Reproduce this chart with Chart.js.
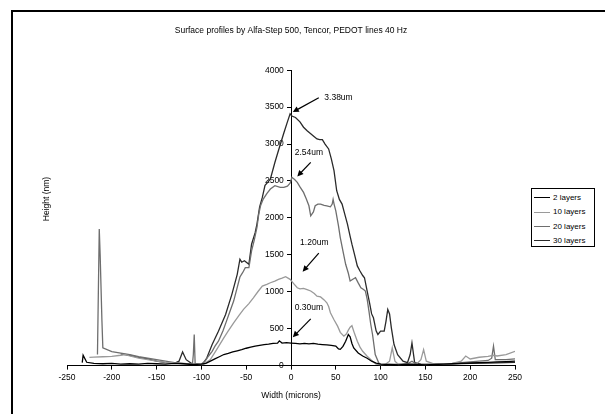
<!DOCTYPE html>
<html>
<head>
<meta charset="utf-8">
<script src="https://cdn.jsdelivr.net/npm/chart.js@4.4.1/dist/chart.umd.min.js"></script>
<style>
  html, body { margin: 0; padding: 0; background: #fff; overflow: hidden; }
  #wrap { position: relative; width: 605px; height: 414px; }
  #frame { position: absolute; left: 11px; top: 10px; width: 700px; height: 500px; border: 2px solid #000; box-sizing: border-box; }
  canvas { position: absolute; left: 0; top: 0; }
  #legend { position: absolute; left: 531px; top: 188px; width: 64px; height: 59px; border: 1px solid #000; box-sizing: border-box; background: #fff;
            font-family: "Liberation Sans", Arial, sans-serif; font-size: 8px; color: #000; padding-top: 2px; }
  #legend div { height: 14.3px; line-height: 14.3px; white-space: nowrap; }
  #legend span.ln { display: inline-block; width: 16px; height: 0; border-top: 1.5px solid #000; vertical-align: middle; margin: 0 3px 0 2px; }
</style>
</head>
<body>
<div id="wrap">
  <div id="frame"></div>
  <canvas id="profileChart" width="605" height="414"></canvas>
  <div id="legend"></div>
</div>
<script>
// series labels
const seriesNames = ['2 layers', '10 layers', '20 layers', '30 layers'];

// 2 layers
const x2 = [-233, -232, -228, -220, -210, -200, -190, -180, -170, -160, -150, -140, -130, -120, -110, -100, -95, -90, -85, -80, -75, -70, -65, -60, -55, -50, -45, -40, -35, -30, -25, -20, -15, -13, -10, -5, 0, 5, 10, 15, 20, 25, 30, 35, 40, 45, 50, 53, 55, 58, 61, 64, 66, 68, 70, 75, 80, 85, 90, 95, 100, 110, 120, 130, 140, 150, 160, 170, 180, 190, 200, 210, 220, 230, 240, 250];
const y2 = [40, 140, 45, 30, 25, 30, 20, 25, 20, 30, 25, 20, 30, 25, 15, 20, 30, 60, 90, 120, 150, 165, 185, 200, 215, 235, 250, 265, 275, 285, 290, 300, 305, 335, 305, 310, 305, 300, 295, 300, 295, 300, 290, 285, 280, 275, 265, 225, 220, 260, 330, 420, 390, 300, 240, 170, 130, 100, 60, 35, 20, 15, 10, 20, 15, 10, 15, 20, 25, 30, 35, 40, 45, 50, 55, 60];

// 10 layers
const x10 = [-225, -220, -210, -200, -190, -185, -180, -170, -160, -150, -140, -130, -120, -110, -100, -98, -90, -83, -75, -70, -64, -58, -53, -47, -42, -37, -32, -27, -23, -18, -14, -10, -6, -1, 3, 7, 10, 14, 18, 22, 26, 29, 33, 37, 40, 42, 44, 48, 52, 55, 59, 62, 64, 66, 68, 71, 74, 77, 80, 85, 91, 95, 100, 105, 110, 113, 116, 120, 130, 140, 145, 148, 151, 160, 170, 180, 190, 195, 200, 210, 220, 226, 230, 240, 250];
const y10 = [110, 115, 120, 125, 140, 150, 130, 100, 80, 60, 45, 35, 25, 20, 15, 14, 82, 217, 375, 470, 579, 680, 761, 840, 918, 1000, 1077, 1100, 1122, 1145, 1168, 1185, 1204, 1168, 1110, 1054, 1040, 1046, 1030, 1010, 975, 941, 930, 890, 851, 800, 715, 620, 534, 450, 398, 430, 480, 520, 540, 430, 330, 250, 194, 126, 58, 20, 10, 15, 60, 240, 60, 15, 20, 20, 80, 217, 60, 20, 25, 30, 60, 130, 90, 113, 125, 140, 130, 150, 194];

// 20 layers
const x20 = [-216, -214, -213, -211, -210, -200, -190, -180, -170, -160, -150, -140, -130, -120, -110, -109, -108, -107, -100, -96, -92, -88, -85, -81, -76, -72, -68, -64, -60, -57, -54, -51, -47, -44, -41, -38, -36, -34, -31, -27, -23, -18, -12, -8, -4, -1, 1, 4, 7, 10, 14, 17, 20, 22, 25, 27, 30, 33, 37, 40, 44, 46, 47, 48, 50, 53, 55, 58, 61, 64, 66, 69, 72, 75, 78, 81, 83, 85, 87, 89, 91, 94, 98, 100, 110, 120, 130, 135, 140, 150, 160, 170, 180, 190, 200, 210, 220, 224, 226, 228, 240, 250];
const y20 = [150, 1850, 1500, 600, 240, 190, 170, 150, 120, 100, 80, 60, 40, 30, 20, 150, 420, 30, 20, 58, 130, 194, 260, 330, 470, 602, 740, 874, 1060, 1200, 1258, 1326, 1326, 1553, 1700, 1870, 2050, 2164, 2255, 2330, 2391, 2436, 2413, 2413, 2430, 2470, 2549, 2520, 2481, 2420, 2345, 2260, 2164, 2028, 2080, 2164, 2187, 2187, 2170, 2164, 2150, 2187, 2250, 2190, 2096, 1893, 1734, 1550, 1372, 1250, 1145, 1170, 1190, 1120, 1054, 1030, 1010, 900, 738, 560, 421, 149, 35, 20, 15, 20, 25, 60, 20, 15, 20, 25, 30, 40, 50, 60, 70, 100, 262, 80, 80, 90];

// 30 layers
const x30 = [-190, -180, -170, -160, -150, -140, -130, -125, -121, -117, -110, -100, -99, -94, -88, -81, -73, -66, -60, -57, -55, -52, -47, -44, -40, -38, -35, -32, -29, -26, -23, -18, -14, -8, -4, -1, 1, 5, 10, 14, 18, 22, 26, 29, 32, 35, 38, 42, 45, 48, 51, 54, 57, 60, 63, 66, 68, 71, 74, 77, 80, 82, 85, 88, 90, 92, 95, 97, 100, 104, 106, 108, 110, 112, 115, 119, 125, 130, 133, 135, 138, 145, 160, 180, 200, 220, 240, 250];
const y30 = [160, 140, 110, 90, 60, 40, 30, 60, 185, 80, 20, 15, 14, 103, 285, 466, 693, 965, 1236, 1440, 1400, 1420, 1372, 1644, 1800, 1916, 2150, 2277, 2440, 2480, 2527, 2750, 2912, 3150, 3300, 3410, 3380, 3360, 3300, 3228, 3180, 3140, 3100, 3070, 3060, 3061, 3000, 2934, 2800, 2640, 2368, 2250, 2187, 2050, 1916, 1750, 1644, 1500, 1350, 1281, 1220, 1190, 1010, 829, 700, 647, 470, 421, 466, 466, 600, 761, 700, 511, 285, 149, 60, 40, 150, 307, 40, 20, 15, 25, 30, 35, 40, 45];

// axis ticks
const xTicks = [-250, -200, -150, -100, -50, 0, 50, 100, 150, 200, 250];
const yTicks = [0, 500, 1000, 1500, 2000, 2500, 3000, 3500, 4000];

// peak labels with arrows (data coordinates)
const peakLabels = ['3.38um', '2.54um', '1.20um', '0.30um'];
const labelAt = [[53, 3628], [20, 2880], [26, 1666], [20, 783]];
const arrowFrom = [[31, 3628], [22, 2753], [31, 1522], [22, 633]];
const arrowTo = [[2, 3433], [7, 2562], [13, 1272], [2, 385]];

const colors = ['#000000', '#9a9a9a', '#6e6e6e', '#2a2a2a'];
const FONT = '"Liberation Sans", Arial, sans-serif';

function toPoints(xs, ys) {
    return xs.map((x, i) => ({ x: x, y: ys[i] }));
}

const seriesX = [x2, x10, x20, x30];
const seriesY = [y2, y10, y20, y30];

const peakPlugin = {
    id: 'peaks',
    afterDatasetsDraw(chart) {
        const ctx = chart.ctx;
        const sx = chart.scales.x, sy = chart.scales.y;
        ctx.save();
        ctx.font = '8.5px ' + FONT;
        ctx.fillStyle = '#000';
        ctx.strokeStyle = '#000';
        ctx.textAlign = 'center';
        ctx.textBaseline = 'middle';
        peakLabels.forEach((txt, i) => {
            ctx.fillText(txt, sx.getPixelForValue(labelAt[i][0]), sy.getPixelForValue(labelAt[i][1]));
            const x1 = sx.getPixelForValue(arrowFrom[i][0]), y1 = sy.getPixelForValue(arrowFrom[i][1]);
            const x2p = sx.getPixelForValue(arrowTo[i][0]), y2p = sy.getPixelForValue(arrowTo[i][1]);
            const a = Math.atan2(y2p - y1, x2p - x1);
            ctx.lineWidth = 1.2;
            ctx.beginPath();
            ctx.moveTo(x1, y1);
            ctx.lineTo(x2p - 4 * Math.cos(a), y2p - 4 * Math.sin(a));
            ctx.stroke();
            ctx.beginPath();
            ctx.moveTo(x2p, y2p);
            ctx.lineTo(x2p - 6 * Math.cos(a) + 3 * Math.sin(a), y2p - 6 * Math.sin(a) - 3 * Math.cos(a));
            ctx.lineTo(x2p - 6 * Math.cos(a) - 3 * Math.sin(a), y2p - 6 * Math.sin(a) + 3 * Math.cos(a));
            ctx.closePath();
            ctx.fill();
        });
        // y axis title, far left
        ctx.translate(47, 199);
        ctx.rotate(-Math.PI / 2);
        ctx.fillText('Height (nm)', 0, 0);
        ctx.restore();
    }
};

const chart = new Chart(document.getElementById('profileChart'), {
    type: 'scatter',
    data: {
        datasets: seriesNames.map((name, i) => ({
            label: name,
            data: toPoints(seriesX[i], seriesY[i]),
            showLine: true,
            borderColor: colors[i],
            backgroundColor: colors[i],
            borderWidth: 1.3,
            pointRadius: 0,
            tension: 0
        }))
    },
    options: {
        responsive: false,
        animation: false,
        layout: { padding: { left: 67, right: 90, top: 0, bottom: 9 } },
        plugins: {
            legend: { display: false },
            tooltip: { enabled: false },
            title: {
                display: true,
                text: 'Surface profiles by Alfa-Step 500, Tencor, PEDOT lines 40 Hz',
                color: '#000',
                font: { family: FONT, size: 8.5, weight: 'normal' },
                padding: { top: 26, bottom: 34 }
            }
        },
        scales: {
            x: {
                type: 'linear',
                min: -250, max: 250,
                afterBuildTicks: s => { s.ticks = xTicks.map(v => ({ value: v })); },
                ticks: { color: '#000', font: { family: FONT, size: 8.5 }, padding: 3, maxRotation: 0 },
                grid: { drawOnChartArea: false, drawTicks: true, tickLength: 4, color: '#000' },
                border: { display: true, color: '#000', width: 1 },
                title: { display: true, text: 'Width (microns)', color: '#000', font: { family: FONT, size: 8.5 }, padding: { top: 5, bottom: 4 } }
            },
            // axis line + tick marks through x = 0
            y: {
                type: 'linear',
                min: 0, max: 4000,
                position: { x: 0 },
                afterBuildTicks: s => { s.ticks = yTicks.map(v => ({ value: v })); },
                ticks: { display: false },
                grid: { drawOnChartArea: false, drawTicks: true, tickLength: 4, color: '#000' },
                border: { display: true, color: '#000', width: 1 }
            },
            // tick labels, just left of the tick marks
            yLabels: {
                type: 'linear',
                axis: 'y',
                min: 0, max: 4000,
                position: { x: -8 },
                afterBuildTicks: s => { s.ticks = yTicks.map(v => ({ value: v })); },
                ticks: { color: '#000', font: { family: FONT, size: 8.5 }, callback: v => String(v) },
                grid: { display: false },
                border: { display: false }
            }
        }
    },
    plugins: [peakPlugin]
});

// legend box
const legendBox = document.getElementById('legend');
chart.data.datasets.forEach(ds => {
    const row = document.createElement('div');
    row.innerHTML = '<span class="ln" style="border-top-color:' + ds.borderColor + '"></span>' + ds.label;
    legendBox.appendChild(row);
});
</script>
</body>
</html>
